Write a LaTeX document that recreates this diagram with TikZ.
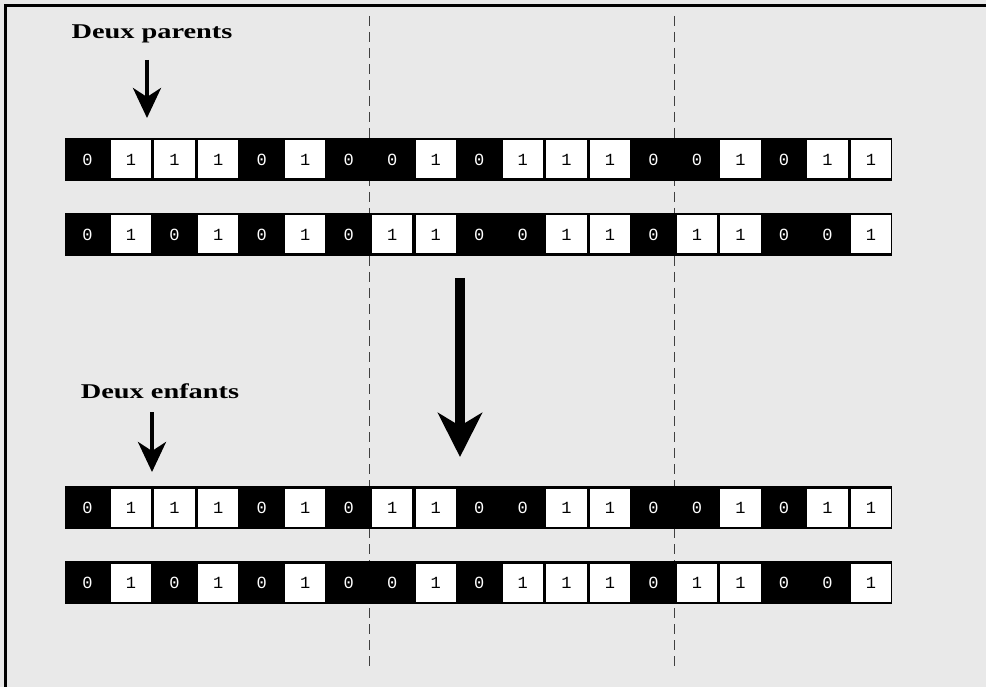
\documentclass[tikz,border=0pt]{standalone}
\usepackage{fontspec}
\setmainfont{Liberation Serif}
\newfontfamily\bitfont{Liberation Mono}
\usetikzlibrary{arrows.meta}
\definecolor{bg}{HTML}{E9E9E9}
\tikzset{
  bitbox/.style={inner sep=0pt,minimum height=38pt,font=\bitfont\fontsize{17}{17}\selectfont},
  bit0/.style={bitbox,text=white},
  bit1/.style={bitbox,fill=white,minimum width=40.5pt},
  cut/.style={draw=black!75,line width=1pt,dash pattern=on 10pt off 6pt},
  title/.style={font=\fontsize{21}{22}\selectfont\bfseries,anchor=base},
  smallarrow/.style={-{Stealth[length=30pt,width=28pt,inset=9pt]},line width=4pt},
  bigarrow/.style={-{Stealth[length=44pt,width=44pt,inset=13pt]},line width=10pt}
}
\newcommand\chromo[3]{%
  \fill (65,#2) rectangle (892,#2+43);
  \foreach \b [count=\i] in {#3} \node[bit\b] (#1-\i) at (44+43.53*\i,#2+21.5) {\b};
}
\begin{document}
\begin{tikzpicture}[x=1pt,y=-1pt]
\fill[bg] (0,0) rectangle (986,687);
\useasboundingbox (0,0) rectangle (986,687);
\draw[line width=3pt] (5,687) -- (5,5.5) -- (986,5.5);
\foreach \x in {369.7,674.4} \draw[cut] (\x,16) -- (\x,668);
\chromo{pa}{138}{0,1,1,1,0,1,0,0,1,0,1,1,1,0,0,1,0,1,1}
\chromo{pb}{213}{0,1,0,1,0,1,0,1,1,0,0,1,1,0,1,1,0,0,1}
\chromo{ea}{486}{0,1,1,1,0,1,0,1,1,0,0,1,1,0,0,1,0,1,1}
\chromo{eb}{561}{0,1,0,1,0,1,0,0,1,0,1,1,1,0,1,1,0,0,1}
\node[title] (parents) at (152,39) {\scalebox{1.35}[1]{Deux parents}};
\node[title] (enfants) at (160,398) {\scalebox{1.35}[1]{Deux enfants}};
\coordinate (p-top) at (147,60);
\coordinate (p-tip) at (147,118);
\coordinate (e-top) at (152,412);
\coordinate (e-tip) at (152,472);
\coordinate (x-top) at (460,278);
\coordinate (x-tip) at (460,457);
\draw[smallarrow] (p-top) -- (p-tip);
\draw[smallarrow] (e-top) -- (e-tip);
\draw[bigarrow] (x-top) -- (x-tip);
\end{tikzpicture}
\end{document}
